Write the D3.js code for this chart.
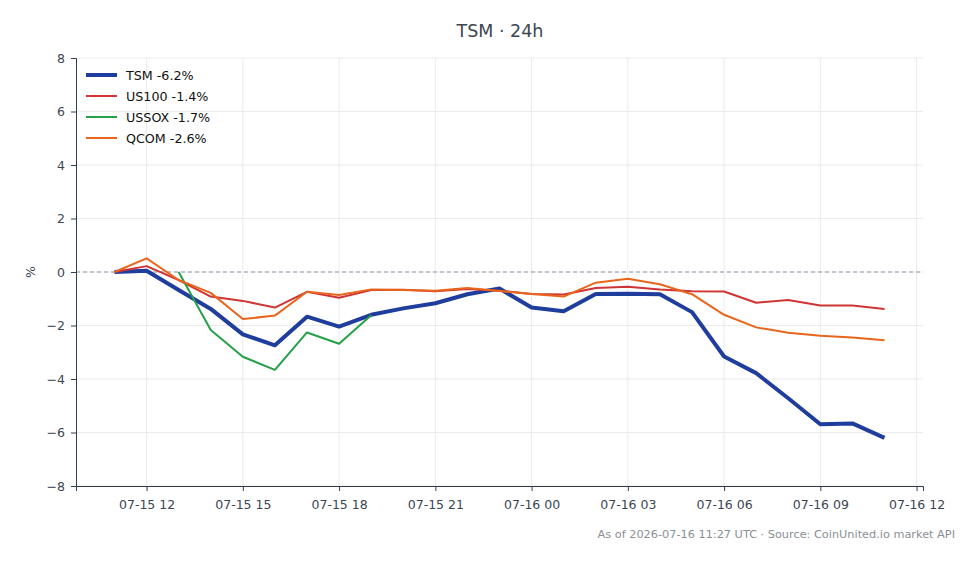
<!DOCTYPE html>
<html>
<head>
<meta charset="utf-8">
<script src="https://cdn.jsdelivr.net/npm/d3@7/dist/d3.min.js"></script>
<style>
  body { margin: 0; background: #fff; }
  svg { font-family: "DejaVu Sans", sans-serif; }
  .grid line { stroke: #ebebeb; stroke-width: 1; }
  .axis path, .axis line { stroke: #2f3e4e; }
  .axis text { fill: #3b4654; font-size: 12.5px; font-family: "DejaVu Sans", sans-serif; }
</style>
</head>
<body>
<svg id="chart" width="980" height="564"></svg>
<script>
// hourly timestamps (UTC)
const times = [
  "2026-07-15T11:00Z", "2026-07-15T12:00Z", "2026-07-15T13:00Z", "2026-07-15T14:00Z",
  "2026-07-15T15:00Z", "2026-07-15T16:00Z", "2026-07-15T17:00Z", "2026-07-15T18:00Z",
  "2026-07-15T19:00Z", "2026-07-15T20:00Z", "2026-07-15T21:00Z", "2026-07-15T22:00Z",
  "2026-07-15T23:00Z", "2026-07-16T00:00Z", "2026-07-16T01:00Z", "2026-07-16T02:00Z",
  "2026-07-16T03:00Z", "2026-07-16T04:00Z", "2026-07-16T05:00Z", "2026-07-16T06:00Z",
  "2026-07-16T07:00Z", "2026-07-16T08:00Z", "2026-07-16T09:00Z", "2026-07-16T10:00Z",
  "2026-07-16T11:00Z"
];

// % change per series (null = no quote)
const tsm   = [0, 0.05, -0.67, -1.38, -2.33, -2.74, -1.67, -2.04, -1.6, -1.36, -1.17, -0.83, -0.62,
               -1.33, -1.47, -0.82, -0.81, -0.83, -1.5, -3.16, -3.78, -4.72, -5.69, -5.66, -6.2];
const us100 = [0, 0.22, -0.3, -0.92, -1.08, -1.33, -0.74, -0.96, -0.67, -0.66, -0.72, -0.64, -0.7,
               -0.82, -0.84, -0.6, -0.55, -0.65, -0.72, -0.73, -1.15, -1.05, -1.25, -1.25, -1.38];
const ussox = [null, null, 0, -2.17, -3.17, -3.66, -2.26, -2.68, -1.62, null, null, null, null,
               null, null, null, null, null, null, null, null, null, null, null, null];
const qcom  = [0, 0.51, -0.3, -0.78, -1.76, -1.63, -0.74, -0.86, -0.65, -0.67, -0.7, -0.6, -0.71,
               -0.82, -0.92, -0.4, -0.25, -0.46, -0.83, -1.6, -2.07, -2.27, -2.38, -2.45, -2.55];

const seriesNames  = ["TSM -6.2%", "US100 -1.4%", "USSOX -1.7%", "QCOM -2.6%"];
const seriesColors = ["#1f3d9c", "#d03434", "#24a048", "#e8661c"];
const seriesWidths = [4, 2, 2, 2];
const yTicks = [-8, -6, -4, -2, 0, 2, 4, 6, 8];

const svg = d3.select("#chart");
const plotL = 76, plotR = 923, plotT = 58, plotB = 486;

const parsed = times.map(t => new Date(t));
const t0 = d3.min(parsed), t1 = d3.max(parsed);
const pad = (t1 - t0) * 0.05;
const x = d3.scaleUtc().domain([new Date(+t0 - pad), new Date(+t1 + pad)]).range([plotL, plotR]);
const y = d3.scaleLinear().domain([-8, 8]).range([plotB, plotT]);
const xTicks = x.ticks(d3.utcHour.every(3));

// grid
const grid = svg.append("g").attr("class", "grid");
grid.selectAll(".gx").data(xTicks).join("line")
  .attr("x1", d => x(d)).attr("x2", d => x(d)).attr("y1", plotT).attr("y2", plotB);
grid.selectAll(".gy").data(yTicks).join("line")
  .attr("x1", plotL).attr("x2", plotR).attr("y1", d => y(d)).attr("y2", d => y(d));

// zero line
svg.append("line")
  .attr("x1", plotL).attr("x2", plotR).attr("y1", y(0)).attr("y2", y(0))
  .attr("stroke", "#8a97aa").attr("stroke-width", 1.2).attr("stroke-dasharray", "4,3");

// axes
svg.append("g").attr("class", "axis")
  .attr("transform", `translate(0,${plotB})`)
  .call(d3.axisBottom(x).tickValues(xTicks).tickFormat(d3.utcFormat("%m-%d %H")).tickSizeOuter(0).tickSize(5).tickPadding(9));
svg.append("g").attr("class", "axis")
  .attr("transform", `translate(${plotL},0)`)
  .call(d3.axisLeft(y).tickValues(yTicks).tickSizeOuter(0).tickSize(5).tickPadding(6));

// lines
const allSeries = [tsm, us100, ussox, qcom];
const line = d3.line()
  .defined(d => d.v !== null)
  .x(d => x(d.t))
  .y(d => y(d.v));
allSeries.forEach((vals, i) => {
  const pts = vals.map((v, j) => ({ t: parsed[j], v: v }));
  svg.append("path")
    .datum(pts)
    .attr("d", line)
    .attr("fill", "none")
    .attr("stroke", seriesColors[i])
    .attr("stroke-width", seriesWidths[i])
    .attr("stroke-linejoin", "round");
});

// legend
const legend = svg.append("g").attr("transform", "translate(86,75)");
seriesNames.forEach((name, i) => {
  legend.append("line")
    .attr("x1", 0).attr("x2", 31).attr("y1", i * 21).attr("y2", i * 21)
    .attr("stroke", seriesColors[i]).attr("stroke-width", seriesWidths[i]);
  legend.append("text")
    .attr("x", 40).attr("y", i * 21 + 4.5)
    .attr("font-size", "12.7px").attr("fill", "#111")
    .text(name);
});

// title, labels, footer
svg.append("text").attr("x", 500).attr("y", 37).attr("text-anchor", "middle")
  .attr("font-size", "17.5px").attr("fill", "#3b4654").text("TSM · 24h");
svg.append("text").attr("transform", `translate(35,${y(0)}) rotate(-90)`)
  .attr("text-anchor", "middle").attr("font-size", "12.5px").attr("fill", "#3b4654").text("%");
svg.append("text").attr("x", 955).attr("y", 538).attr("text-anchor", "end")
  .attr("font-size", "11.3px").attr("fill", "#8a8f96")
  .text("As of 2026-07-16 11:27 UTC · Source: CoinUnited.io market API");
</script>
</body>
</html>
